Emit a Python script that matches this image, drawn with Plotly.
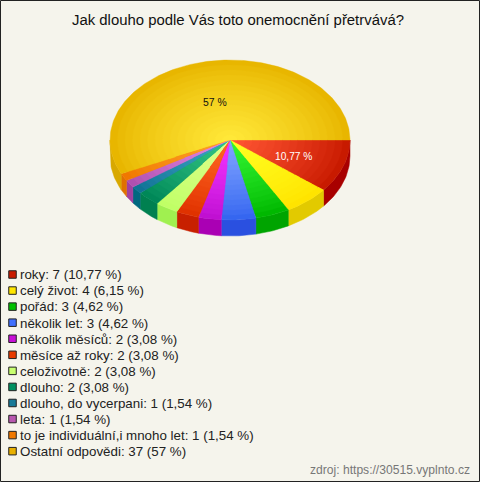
import math
import plotly.graph_objects as go

labels = ["roky", "celý život", "pořád", "několik let", "několik měsíců", "měsíce až roky",
          "celoživotně", "dlouho", "dlouho, do vycerpani", "leta",
          "to je individuální,i mnoho let", "Ostatní odpovědi"]
counts = [7, 4, 3, 3, 2, 2, 2, 2, 1, 1, 1, 37]
percents = ["10,77", "6,15", "4,62", "4,62", "3,08", "3,08", "3,08", "3,08", "1,54", "1,54", "1,54", "57"]
inner_colors = ["#ff5533", "#ffff22", "#33f533", "#80a4ff", "#f235ff", "#ff6622", "#dcff8c", "#33c585",
                "#40a5c5", "#e488e4", "#ffa228", "#ffe838"]
outer_colors = ["#c81a00", "#ffe400", "#00b800", "#3566f0", "#c010d2", "#e03200", "#c0ff66", "#008858",
                "#107295", "#b050b0", "#f07800", "#e8b600"]
side_colors = ["#a80000", "#e2ca00", "#00a400", "#2a50e0", "#aa00b4", "#c82000", "#a0f050", "#008050",
               "#006880", "#a040a0", "#e07000", "#d8a800"]
legend_colors = ["#c81a00", "#ffe600", "#00c000", "#4070ff", "#c810d8", "#e83a00", "#c8ff70", "#009060",
                 "#187a98", "#b858b0", "#f07800", "#e8b000"]

BG = "#f5f4ec"
CX, CY, RX, RY, DEPTH = 230, 140, 120, 80, 16
RINGS = 16


def hex_rgb(c):
    return [int(c[i:i + 2], 16) for i in (1, 3, 5)]


def mix(a, b, t):
    pa, pb = hex_rgb(a), hex_rgb(b)
    return "rgb(%d,%d,%d)" % tuple(round(x + (y - x) * t) for x, y in zip(pa, pb))


def arc(t0, t1, scale=1.0, dy=0.0):
    n = max(3, int(abs(t1 - t0) * 60))
    ts = [t0 + (t1 - t0) * i / n for i in range(n + 1)]
    return ([CX + RX * scale * math.cos(t) for t in ts],
            [CY + dy + RY * scale * math.sin(t) for t in ts])


fig = go.Figure()
total = sum(counts)
edges = [0.0]
for v in counts:
    edges.append(edges[-1] + v / total * 2 * math.pi)

# walls, only the front half is visible
for i in range(len(counts)):
    a, b = edges[i], min(edges[i + 1], math.pi)
    if a >= math.pi:
        continue
    x1, y1 = arc(a, b)
    x2, y2 = arc(b, a, dy=DEPTH)
    fig.add_trace(go.Scatter(x=x1 + x2 + x1[:1], y=y1 + y2 + y1[:1], mode="lines", fill="toself",
                             fillcolor=side_colors[i], line=dict(color=side_colors[i], width=0.5),
                             hoverinfo="skip", showlegend=False))

# top face, stacked rings give the radial shading
for k in range(RINGS):
    s = 1 - k / RINGS
    t = (k / (RINGS - 1)) ** 0.85
    for i in range(len(counts)):
        col = mix(outer_colors[i], inner_colors[i], t)
        x, y = arc(edges[i], edges[i + 1], scale=s)
        fig.add_trace(go.Scatter(x=[CX] + x + [CX], y=[CY] + y + [CY], mode="lines", fill="toself",
                                 fillcolor=col, line=dict(color=col, width=0.4),
                                 hoverinfo="skip", showlegend=False))

# legend rows
rows = list(range(len(labels)))
marker_y = [274.5 + 16.06 * r for r in rows]
text_y = [y + 1.5 for y in marker_y]
fig.add_trace(go.Scatter(
    x=[12.5] * len(rows), y=marker_y, mode="markers",
    marker=dict(symbol="square", size=7.5, color=legend_colors, line=dict(color="#222222", width=1)),
    hoverinfo="skip", showlegend=False))
fig.add_trace(go.Scatter(
    x=[20] * len(rows), y=text_y, mode="text", textposition="middle right",
    text=[f"{l}: {c} ({p} %)" for l, c, p in zip(labels, counts, percents)],
    textfont=dict(family="Liberation Sans", size=13.35, color="#222222"),
    hoverinfo="skip", showlegend=False))

fig.add_annotation(x=237.5, y=20, text="Jak dlouho podle Vás toto onemocnění přetrvává?", showarrow=False,
                   font=dict(family="Liberation Sans", size=14.9, color="#111111"))
fig.add_annotation(x=214.5, y=102, text=f"{percents[11]} %", showarrow=False,
                   font=dict(family="Liberation Sans", size=10.4, color="#111111"))
fig.add_annotation(x=293, y=156, text=f"{percents[0]} %", showarrow=False,
                   font=dict(family="Liberation Sans", size=10.2, color="#ffffff"))
fig.add_annotation(x=390, y=470, text="zdroj: https://30515.vyplnto.cz", showarrow=False,
                   font=dict(family="Liberation Sans", size=12.1, color="#777777"))

fig.add_shape(type="rect", x0=0.5, y0=0.5, x1=479.5, y1=481.5, line=dict(color="#222222", width=1),
              fillcolor="rgba(0,0,0,0)")

fig.update_layout(
    width=480, height=482, margin=dict(l=0, r=0, t=0, b=0),
    paper_bgcolor=BG, plot_bgcolor=BG, showlegend=False,
    xaxis=dict(range=[0, 480], visible=False, fixedrange=True),
    yaxis=dict(range=[482, 0], visible=False, fixedrange=True),
)
fig.write_html("out.html", config={"displayModeBar": False},
               post_script="document.documentElement.style.overflow='hidden';document.body.style.margin='0';")
